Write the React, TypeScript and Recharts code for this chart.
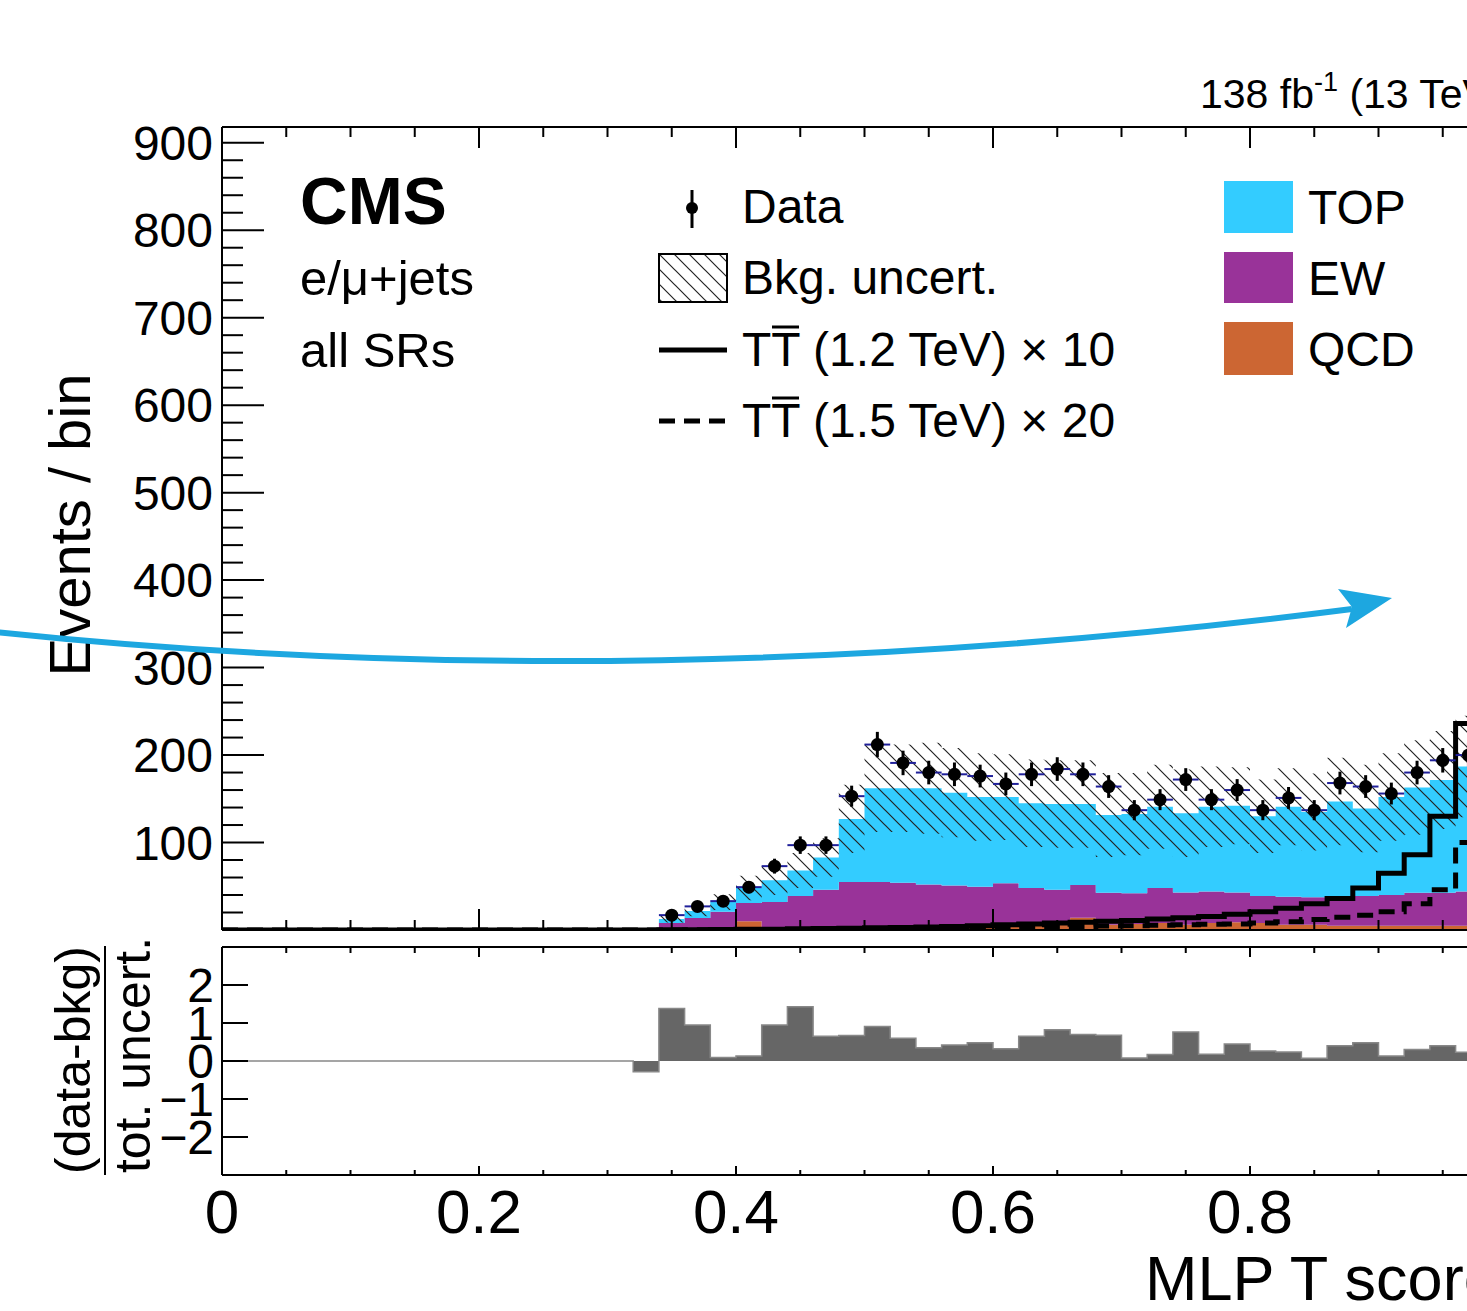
import { Area, ComposedChart, ErrorBar, Line, Scatter, XAxis, YAxis } from 'recharts';

const FONT = '"Liberation Sans", Arial, Helvetica, sans-serif';

// 50 bins of 0.02 in MLP T score; bins below 0.32 are empty
const nBins = 50;
const firstBin = 16;
const halfBin = 0.01;

// values per bin, from 0.32-0.34 up to 0.98-1.00
const dataCounts = [0, 17, 27, 33, 49, 73, 97, 97, 153, 212, 191, 180, 178, 176, 167, 178, 184, 178, 164, 137, 149, 172, 149, 160, 137, 151, 137, 168, 164, 156, 180, 194, 200, 210];
const dataErr = [0, 4, 5, 6, 7, 8.5, 10, 10, 12, 14.5, 14, 13.5, 13.5, 13, 13, 13.5, 13.5, 13.5, 13, 11.5, 12, 13, 12, 12.5, 11.5, 12.5, 11.5, 13, 13, 12.5, 13.5, 14, 14, 14.5];
const topVals = [0.2, 4.5, 8, 11, 17, 25, 29, 37, 72, 107, 108, 110, 106, 102.5, 98.5, 97, 98, 92.5, 89, 90.5, 93, 90.5, 97, 99, 91, 103, 97.5, 109, 100, 112, 120.5, 129, 143, 150];
const ewVals = [0.3, 7.7, 13.2, 20, 21, 30, 37, 43.5, 52, 51.5, 50.5, 48, 46.5, 44.5, 47.5, 42, 38, 37.5, 36.5, 35, 40, 37, 36, 34, 31, 32, 31.5, 33, 34, 35, 37.5, 37.5, 39, 40];
const qcdVals = [0.1, 0.3, 0.5, 1, 10, 2, 2, 2.5, 3, 3.5, 3.5, 4, 4.5, 5, 6, 6, 8, 14, 6, 7, 8, 6, 8, 9, 8, 6, 6, 5, 5, 5, 5, 5, 5, 5];
const bkgUnc = [1, 4, 6, 9, 14, 17, 20, 22, 39, 50, 50, 52, 51, 50, 49, 50, 50, 50, 48, 47, 48, 50, 46, 44, 42, 44, 44, 50, 50, 50, 54, 56, 58, 60];
const sig1200 = [0.1, 0.2, 0.3, 0.5, 0.8, 1, 1.3, 1.6, 2, 2.5, 3, 3.5, 4, 5, 6, 7, 8, 9, 10, 11, 12.5, 14, 15.5, 18, 21, 25, 30, 36, 48, 65, 86, 130, 236, 320];
const sig1500 = [0.1, 0.1, 0.2, 0.3, 0.4, 0.5, 0.6, 0.8, 1, 1.2, 1.5, 1.8, 2, 2.4, 2.8, 3.2, 3.6, 4, 4.5, 5, 5.5, 6, 6.5, 7, 8, 9.5, 12, 14.5, 17, 21, 30, 46, 100, 150];
const pullVals = [-0.28, 1.38, 0.95, 0.09, 0.13, 0.95, 1.43, 0.65, 0.67, 0.91, 0.6, 0.35, 0.42, 0.48, 0.32, 0.65, 0.82, 0.7, 0.68, 0.08, 0.17, 0.76, 0.18, 0.45, 0.26, 0.24, 0.07, 0.4, 0.48, 0.13, 0.3, 0.4, 0.23, 0.3];

const xTicks = Array.from({ length: 21 }, (_, i) => (i * 5) / 100);
const yTicks = Array.from({ length: 45 }, (_, i) => (i + 1) * 20);
const ratioTicks = [-2, -1, 0, 1, 2];

const val = (arr: number[], b: number) => (b >= firstBin ? arr[b - firstBin] : 0);

// one row per bin edge, drawn with stepAfter; last edge repeats the last bin
const rows = Array.from({ length: nBins + 1 }, (_, i) => {
  const b = Math.min(i, nBins - 1);
  const top = val(topVals, b);
  const ew = val(ewVals, b);
  const qcd = val(qcdVals, b);
  const tot = top + ew + qcd;
  const u = val(bkgUnc, b);
  return {
    x: (i * 2) / 100,
    qcd,
    ew,
    top,
    band: [Math.max(tot - u, 0), tot + u],
    s12: val(sig1200, b),
    s15: val(sig1500, b),
    pull: val(pullVals, b),
  };
});

const points = dataCounts
  .map((n, k) => ({ x: ((firstBin + k) * 2 + 1) / 100, y: n, ey: dataErr[k], ex: halfBin }))
  .filter((p) => p.y > 0);

const isMajorX = (v: number) => Math.abs(v * 5 - Math.round(v * 5)) < 1e-6;
const fmtX = (v: number) => (v === 0 ? '0' : v === 1 ? '1' : v.toFixed(1));

const xTick = (dir: 1 | -1, major: number, minor: number, labels: boolean) => (props: any) => {
  const { x, y, payload } = props;
  const big = isMajorX(payload.value);
  const len = big ? major : minor;
  return (
    <g>
      <line x1={x} x2={x} y1={y} y2={y + dir * len} stroke="#000" strokeWidth={2} />
      {labels && big && (
        <text x={x} y={y + 58} textAnchor="middle" fontSize={62} fontFamily={FONT} fill="#000">
          {fmtX(payload.value)}
        </text>
      )}
    </g>
  );
};

const mainYTick = (props: any) => {
  const { x, y, payload } = props;
  const big = payload.value % 100 === 0;
  return (
    <g>
      <line x1={x} x2={x + (big ? 42 : 21)} y1={y} y2={y} stroke="#000" strokeWidth={2} />
      {big && (
        <text x={x - 9} y={y} dy="0.36em" textAnchor="end" fontSize={48} fontFamily={FONT} fill="#000">
          {payload.value}
        </text>
      )}
    </g>
  );
};

const ratioYTick = (props: any) => {
  const { x, y, payload } = props;
  const v = payload.value;
  return (
    <g>
      <line x1={x} x2={x + 26} y1={y} y2={y} stroke="#000" strokeWidth={2} />
      <text x={x - 8} y={y} dy="0.36em" textAnchor="end" fontSize={48} fontFamily={FONT} fill="#000">
        {v < 0 ? `\u2212${-v}` : v}
      </text>
    </g>
  );
};

const axisLine = { stroke: '#000', strokeWidth: 2 };

const Hatch = ({ id }: { id: string }) => (
  <defs>
    <pattern id={id} patternUnits="userSpaceOnUse" width={15} height={15}>
      <path d="M0,0 L15,15 M-1,14 L1,16 M14,-1 L16,1" stroke="#222" strokeWidth={1.2} />
    </pattern>
  </defs>
);

function MainPanel() {
  return (
    <ComposedChart width={1600} height={1000} data={rows} margin={{ top: 97, right: 93, bottom: 40, left: 162 }}>
      <Hatch id="hatchMain" />
      <XAxis dataKey="x" type="number" domain={[0, 1]} ticks={xTicks} interval={0} allowDataOverflow
        tick={xTick(-1, 21, 10, false)} tickSize={0} tickMargin={0} axisLine={axisLine} height={30} />
      <XAxis xAxisId="top" orientation="top" dataKey="x" type="number" domain={[0, 1]} ticks={xTicks} interval={0}
        allowDataOverflow tick={xTick(1, 21, 10, false)} tickSize={0} tickMargin={0} axisLine={axisLine} height={30} />
      <YAxis type="number" domain={[0, 918]} ticks={yTicks} interval={0} allowDataOverflow
        tick={mainYTick} tickSize={0} tickMargin={0} axisLine={axisLine} width={60} />
      <Area type="stepAfter" dataKey="qcd" stackId="bkg" fill="#cc6633" fillOpacity={1} stroke="none" isAnimationActive={false} />
      <Area type="stepAfter" dataKey="ew" stackId="bkg" fill="#993399" fillOpacity={1} stroke="none" isAnimationActive={false} />
      <Area type="stepAfter" dataKey="top" stackId="bkg" fill="#33ccff" fillOpacity={1} stroke="none" isAnimationActive={false} />
      <Area type="stepAfter" dataKey="band" fill="url(#hatchMain)" fillOpacity={1} stroke="none" isAnimationActive={false} />
      <Line type="stepAfter" dataKey="s15" stroke="#000" strokeWidth={5} strokeDasharray="16 9" dot={false} isAnimationActive={false} />
      <Line type="stepAfter" dataKey="s12" stroke="#000" strokeWidth={5} strokeLinejoin="miter" dot={false} isAnimationActive={false} />
      <Scatter data={points} dataKey="y" isAnimationActive={false}
        shape={(p: any) => <circle cx={p.cx} cy={p.cy} r={6.5} fill="#000" />}>
        <ErrorBar dataKey="ex" direction="x" width={0} stroke="#20209a" strokeWidth={2} />
        <ErrorBar dataKey="ey" direction="y" width={0} stroke="#000" strokeWidth={3} />
      </Scatter>
    </ComposedChart>
  );
}

function RatioPanel() {
  return (
    <ComposedChart width={1600} height={411} data={rows} margin={{ top: 17, right: 93, bottom: 106, left: 162 }}>
      <XAxis dataKey="x" type="number" domain={[0, 1]} ticks={xTicks} interval={0} allowDataOverflow
        tick={xTick(-1, 9, 5, true)} tickSize={0} tickMargin={0} axisLine={axisLine} height={30} />
      <XAxis xAxisId="top" orientation="top" dataKey="x" type="number" domain={[0, 1]} ticks={xTicks} interval={0}
        allowDataOverflow tick={xTick(1, 10, 6, false)} tickSize={0} tickMargin={0} axisLine={axisLine} height={30} />
      <YAxis type="number" domain={[-3, 3]} ticks={ratioTicks} interval={0} allowDataOverflow
        tick={ratioYTick} tickSize={0} tickMargin={0} axisLine={axisLine} width={60} />
      <Area type="stepAfter" dataKey="pull" baseValue={0} fill="#666666" fillOpacity={1} stroke="#888888"
        strokeWidth={1.5} isAnimationActive={false} />
    </ComposedChart>
  );
}

function Overlay() {
  const t = { fontFamily: FONT, fill: '#000' };
  return (
    <svg width={1467} height={1311} style={{ position: 'absolute', left: 0, top: 0, pointerEvents: 'none' }}>
      <Hatch id="hatchLeg" />
      <text x={1200} y={108} fontSize={41} {...t}>
        138 fb<tspan dy={-17} fontSize={27}>-1</tspan>
        <tspan dy={17}> (13 TeV)</tspan>
      </text>
      <text x={300} y={224} fontSize={66} fontWeight="bold" {...t}>CMS</text>
      <text x={300} y={295} fontSize={49} {...t}>e/μ+jets</text>
      <text x={300} y={367} fontSize={49} {...t}>all SRs</text>

      {/* legend, left column */}
      <line x1={692} x2={692} y1={190} y2={228} stroke="#000" strokeWidth={3} />
      <circle cx={692} cy={208} r={6} fill="#000" />
      <text x={742} y={223} fontSize={48} {...t}>Data</text>
      <rect x={659} y={254} width={68} height={48} fill="url(#hatchLeg)" stroke="#000" strokeWidth={2} />
      <text x={742} y={294} fontSize={48} {...t}>Bkg. uncert.</text>
      <line x1={659} x2={727} y1={350} y2={350} stroke="#000" strokeWidth={5} />
      <text x={742} y={366} fontSize={48} {...t}>TT (1.2 TeV) × 10</text>
      <line x1={772} x2={799} y1={327} y2={327} stroke="#000" strokeWidth={3} />
      <line x1={659} x2={727} y1={421} y2={421} stroke="#000" strokeWidth={5} strokeDasharray="16 9" />
      <text x={742} y={437} fontSize={48} {...t}>TT (1.5 TeV) × 20</text>
      <line x1={772} x2={799} y1={398} y2={398} stroke="#000" strokeWidth={3} />

      {/* legend, right column */}
      <rect x={1224} y={181} width={69} height={52} fill="#33ccff" />
      <text x={1308} y={224} fontSize={48} {...t}>TOP</text>
      <rect x={1224} y={252} width={69} height={51} fill="#993399" />
      <text x={1308} y={295} fontSize={48} {...t}>EW</text>
      <rect x={1224} y={322} width={69} height={53} fill="#cc6633" />
      <text x={1308} y={366} fontSize={48} {...t}>QCD</text>

      {/* axis titles */}
      <text transform="translate(90,525) rotate(-90)" textAnchor="middle" fontSize={58} {...t}>Events / bin</text>
      <text transform="translate(90,1060) rotate(-90)" textAnchor="middle" fontSize={50} {...t}>(data-bkg)</text>
      <line x1={105} x2={105} y1={946} y2={1175} stroke="#000" strokeWidth={2} />
      <text transform="translate(150,1055) rotate(-90)" textAnchor="middle" fontSize={50} {...t}>tot. uncert.</text>
      <text x={1145} y={1300} fontSize={63} {...t}>MLP T score</text>

      {/* annotation arrow */}
      <path d="M -5 632 Q 640 700 1352 609" stroke="#1da7e0" strokeWidth={6} fill="none" />
      <path d="M 1392 598 L 1338 589 L 1352 607 L 1346 628 Z" fill="#1da7e0" />
    </svg>
  );
}

export default function App() {
  return (
    <div style={{ position: 'fixed', left: 0, top: 0, width: 1467, height: 1311, overflow: 'hidden', background: '#fff' }}>
      <div style={{ position: 'absolute', left: 0, top: 0 }}>
        <MainPanel />
      </div>
      <div style={{ position: 'absolute', left: 0, top: 900 }}>
        <RatioPanel />
      </div>
      <Overlay />
    </div>
  );
}
